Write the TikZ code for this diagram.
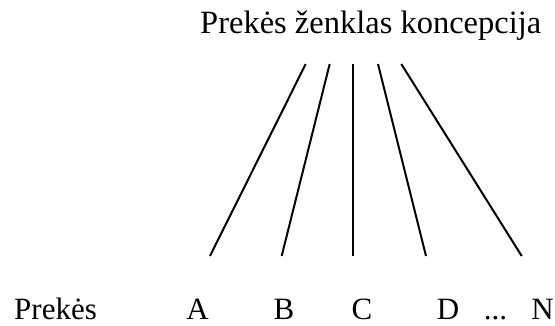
\documentclass[tikz,border=0pt]{standalone}
\usepackage{fontspec}
\setmainfont{Liberation Serif}
\begin{document}
\begin{tikzpicture}[x=1pt,y=1pt,
  lbl/.style={inner sep=0pt,font=\fontsize{31}{37}\selectfont},
  ttl/.style={inner sep=0pt,font=\fontsize{32.5}{39}\selectfont},
  ray/.style={line width=2pt}]
\useasboundingbox (0,0) rectangle (555,325);
\node[ttl,anchor=base west] (title) at (200,292) {Prekės ženklas koncepcija};
\node[lbl,anchor=base west] (prek) at (14,6) {Prekės};
\node[lbl,anchor=base] (A) at (197.5,6) {A};
\node[lbl,anchor=base] (B) at (284,6) {B};
\node[lbl,anchor=base] (C) at (362,6) {C};
\node[lbl,anchor=base] (D) at (448,6) {D};
\node[lbl,anchor=base] (dots) at (495.5,6) {...};
\node[lbl,anchor=base] (N) at (542.5,6) {N};
\coordinate (t1) at (305.7,261); \coordinate (b1) at (210,69);
\coordinate (t2) at (329.7,261); \coordinate (b2) at (281.7,69);
\coordinate (t3) at (353.3,261); \coordinate (b3) at (353.3,69);
\coordinate (t4) at (378,261);   \coordinate (b4) at (426,69);
\coordinate (t5) at (401.3,261); \coordinate (b5) at (521.7,69);
\draw[ray] (t1) -- (b1);
\draw[ray] (t2) -- (b2);
\draw[ray] (t3) -- (b3);
\draw[ray] (t4) -- (b4);
\draw[ray] (t5) -- (b5);
\end{tikzpicture}
\end{document}
